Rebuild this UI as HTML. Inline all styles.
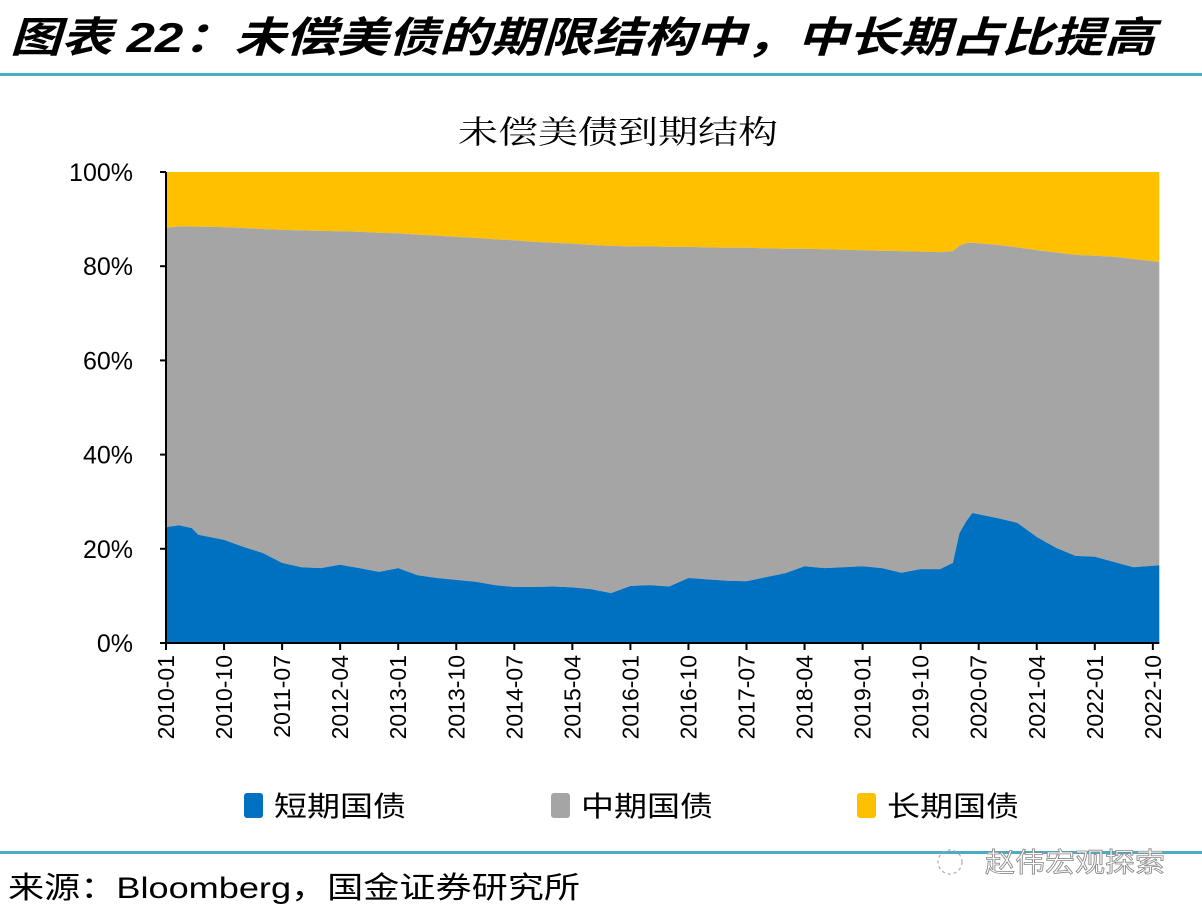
<!DOCTYPE html>
<html><head><meta charset="utf-8">
<style>
html,body{margin:0;padding:0;background:#fff;}
body{width:1202px;height:916px;overflow:hidden;position:relative;font-family:"Liberation Sans","Noto Sans CJK SC",sans-serif;}
</style></head>
<body>
<svg width="1202" height="916" viewBox="0 0 1202 916" xmlns="http://www.w3.org/2000/svg">
  <text x="10" y="52" font-size="42" font-weight="bold" font-style="italic" fill="#000" textLength="1145" lengthAdjust="spacingAndGlyphs" font-family="'Liberation Sans','Noto Sans CJK SC',sans-serif">图表 22：未偿美债的期限结构中，中长期占比提高</text>
  <rect x="0" y="73" width="1202" height="3" fill="#4bacc6"/>
  <text x="458" y="143" font-size="32" fill="#000" textLength="320" lengthAdjust="spacingAndGlyphs" font-family="'Liberation Serif','Noto Serif CJK SC',serif">未偿美债到期结构</text>
  <g id="plot"></g>
  <g id="axes"></g>
  <g>
    <g>
      <rect x="244" y="793" width="19" height="25" rx="3" fill="#0070c0"/>
      <text x="274" y="816" font-size="28" fill="#000" textLength="132" lengthAdjust="spacingAndGlyphs" font-family="'Liberation Sans','Noto Sans CJK SC',sans-serif">短期国债</text>
    </g>
    <g>
      <rect x="551" y="793" width="19" height="25" rx="3" fill="#a5a5a5"/>
      <text x="581" y="816" font-size="28" fill="#000" textLength="132" lengthAdjust="spacingAndGlyphs" font-family="'Liberation Sans','Noto Sans CJK SC',sans-serif">中期国债</text>
    </g>
    <g>
      <rect x="857" y="793" width="19" height="25" rx="3" fill="#ffc000"/>
      <text x="887" y="816" font-size="28" fill="#000" textLength="132" lengthAdjust="spacingAndGlyphs" font-family="'Liberation Sans','Noto Sans CJK SC',sans-serif">长期国债</text>
    </g>
  </g>
  <rect x="0" y="851" width="1202" height="3" fill="#4bacc6"/>
  <text x="8" y="898" font-size="30" fill="#000" textLength="572" lengthAdjust="spacingAndGlyphs" font-family="'Liberation Sans','Noto Sans CJK SC',sans-serif">来源：Bloomberg，国金证券研究所</text>
  <text x="985" y="872" font-size="27" fill="#fff" stroke="#888" stroke-width="0.8" textLength="180" lengthAdjust="spacingAndGlyphs" font-family="'Liberation Sans','Noto Sans CJK SC',sans-serif">赵伟宏观探索</text>
  <circle cx="950" cy="862" r="12" fill="none" stroke="#aaa" stroke-width="1.2" stroke-dasharray="3 3"/>
</svg>
<script>
const dates = ["2010-01","2010-03","2010-05","2010-06","2010-10","2011-01","2011-04","2011-07","2011-10","2012-01","2012-04","2012-07","2012-10","2013-01","2013-04","2013-07","2013-10","2014-01","2014-04","2014-07","2014-10","2015-01","2015-04","2015-07","2015-10","2016-01","2016-04","2016-07","2016-10","2017-01","2017-04","2017-07","2017-10","2018-01","2018-04","2018-07","2018-10","2019-01","2019-04","2019-07","2019-10","2020-01","2020-03","2020-04","2020-05","2020-06","2020-10","2021-01","2021-04","2021-07","2021-10","2022-01","2022-04","2022-07","2022-11"];
const shortPct = [24.6,25.0,24.4,23.0,21.9,20.4,19.1,17.0,16.1,15.9,16.6,15.9,15.1,15.9,14.4,13.8,13.4,13.0,12.3,11.9,11.9,12.0,11.8,11.4,10.6,12.1,12.3,12.0,13.8,13.5,13.2,13.1,14.0,14.8,16.3,15.9,16.1,16.3,15.9,14.9,15.7,15.7,17.0,23.3,25.7,27.6,26.5,25.5,22.5,20.2,18.5,18.3,17.2,16.1,16.5];
const midPct = [63.5,63.5,64.0,65.4,66.4,67.7,68.8,70.7,71.5,71.6,70.8,71.4,72.0,71.1,72.3,72.7,72.8,73.0,73.4,73.6,73.3,73.0,73.0,73.1,73.7,72.1,71.9,72.1,70.3,70.5,70.7,70.8,69.8,68.9,67.4,67.7,67.4,67.1,67.4,68.3,67.4,67.3,66.2,61.0,59.2,57.4,58.0,58.5,60.9,62.7,63.9,63.9,64.8,65.4,64.4];
const longPct = [11.9,11.5,11.6,11.6,11.7,11.9,12.1,12.3,12.4,12.5,12.6,12.7,12.9,13.0,13.3,13.5,13.8,14.0,14.3,14.5,14.8,15.0,15.2,15.5,15.7,15.8,15.8,15.9,15.9,16.0,16.1,16.1,16.2,16.3,16.3,16.4,16.5,16.6,16.7,16.8,16.9,17.0,16.8,15.7,15.1,15.0,15.5,16.0,16.6,17.1,17.6,17.8,18.0,18.5,19.1];
const yTicks = [0,20,40,60,80,100];
const xTickLabels = ["2010-01","2010-10","2011-07","2012-04","2013-01","2013-10","2014-07","2015-04","2016-01","2016-10","2017-07","2018-04","2019-01","2019-10","2020-07","2021-04","2022-01","2022-10"];

const NS="http://www.w3.org/2000/svg";
const X0=166, PXM=6.45, Y0=643, Y100=172;
function monthIdx(s){const [y,m]=s.split("-").map(Number);return (y-2010)*12+(m-1);}
function xScale(s){return X0+monthIdx(s)*PXM;}
function yScale(v){return Y0-(v/100)*(Y0-Y100);}
const plot=document.getElementById("plot"), axes=document.getElementById("axes");
const lastX=xScale(dates[dates.length-1]);

function area(lower, upper, color, name){
  let d="";
  for(let i=0;i<dates.length;i++){d+=(i?"L":"M")+xScale(dates[i]).toFixed(1)+","+yScale(upper[i]).toFixed(1);}
  for(let i=dates.length-1;i>=0;i--){d+="L"+xScale(dates[i]).toFixed(1)+","+yScale(lower[i]).toFixed(1);}
  d+="Z";
  const p=document.createElementNS(NS,"path");
  p.setAttribute("d",d);p.setAttribute("fill",color);
  
  
  plot.appendChild(p);
}
const zeros=dates.map(()=>0);
const c1=shortPct.slice();
const c2=shortPct.map((v,i)=>v+midPct[i]);
const c3=c2.map((v,i)=>v+longPct[i]);
area(c2,c3,"#ffc000","area-long");
area(c1,c2,"#a5a5a5","area-mid");
area(zeros,c1,"#0070c0","area-short");

const yl=document.createElementNS(NS,"line");
yl.setAttribute("x1",X0);yl.setAttribute("x2",X0);yl.setAttribute("y1",Y100);yl.setAttribute("y2",Y0);
yl.setAttribute("stroke","#000");yl.setAttribute("stroke-width","2");


axes.appendChild(yl);
yTicks.forEach(v=>{
  const y=yScale(v);
  const t=document.createElementNS(NS,"line");
  t.setAttribute("x1",X0-6);t.setAttribute("x2",X0);t.setAttribute("y1",y);t.setAttribute("y2",y);
  t.setAttribute("stroke","#000");t.setAttribute("stroke-width","2");
  
  
  axes.appendChild(t);
  const tx=document.createElementNS(NS,"text");
  tx.setAttribute("x",133);tx.setAttribute("y",y+9);tx.setAttribute("text-anchor","end");
  tx.setAttribute("font-size","25");tx.setAttribute("font-family","'Liberation Sans',sans-serif");
  tx.textContent=v+"%";
  
  
  axes.appendChild(tx);
});
const xl=document.createElementNS(NS,"line");
xl.setAttribute("x1",X0);xl.setAttribute("x2",lastX);xl.setAttribute("y1",Y0);xl.setAttribute("y2",Y0);
xl.setAttribute("stroke","#000");xl.setAttribute("stroke-width","2");


axes.appendChild(xl);
xTickLabels.forEach(s=>{
  const x=xScale(s);
  const t=document.createElementNS(NS,"line");
  t.setAttribute("x1",x);t.setAttribute("x2",x);t.setAttribute("y1",Y0);t.setAttribute("y2",Y0+7);
  t.setAttribute("stroke","#000");t.setAttribute("stroke-width","2");
  
  
  axes.appendChild(t);
  const tx=document.createElementNS(NS,"text");
  tx.setAttribute("x",0);tx.setAttribute("y",0);tx.setAttribute("text-anchor","end");
  tx.setAttribute("font-size","23");tx.setAttribute("font-family","'Liberation Sans',sans-serif");
  tx.setAttribute("transform","translate("+(x+8)+","+(Y0+12)+") rotate(-90)");
  tx.textContent=s;
  
  
  axes.appendChild(tx);
});
</script>
</body></html>
